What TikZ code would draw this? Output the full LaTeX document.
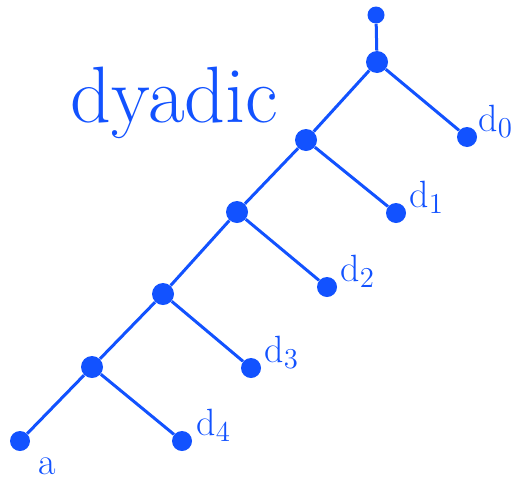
\documentclass[tikz,border=0pt]{standalone}
\definecolor{dyblue}{RGB}{18,82,255}
\begin{document}
\begin{tikzpicture}[x=0.5pt, y=-0.5pt,
    dot/.style={circle, fill=dyblue, inner sep=0pt, minimum size=20pt*0.5},
    bigdot/.style={dot, minimum size=22pt*0.5},
    topdot/.style={dot, minimum size=17pt*0.5},
    edge/.style={draw=dyblue, line width=1.5pt},
    lab/.style={text=dyblue, anchor=base west, font=\fontsize{19}{22}\selectfont}]

    \useasboundingbox (0,0) rectangle (512,482);

    % Title
    \node[text=dyblue, anchor=base west, inner sep=0pt,
          font=\fontsize{40}{44}\selectfont] (title) at (70,122) {dyadic};

    % Spine
    \node[topdot] (top) at (376,15) {};
    \node[bigdot] (n0) at (377,62) {};
    \node[bigdot] (n1) at (306,140) {};
    \node[bigdot] (n2) at (237,212) {};
    \node[bigdot] (n3) at (163,294) {};
    \node[bigdot] (n4) at (92,367) {};
    \node[dot] (a) at (20,441) {};

    % Leaves
    \node[dot] (d0) at (467,137) {};
    \node[dot] (d1) at (396,213) {};
    \node[dot] (d2) at (327,287) {};
    \node[dot] (d3) at (251,368) {};
    \node[dot] (d4) at (182,441) {};

    % Edges
    \draw[edge] (top) -- (n0) -- (n1) -- (n2) -- (n3) -- (n4) -- (a);
    \draw[edge] (n0) -- (d0);
    \draw[edge] (n1) -- (d1);
    \draw[edge] (n2) -- (d2);
    \draw[edge] (n3) -- (d3);
    \draw[edge] (n4) -- (d4);

    % Labels
    \node[lab, inner sep=0pt] (l0) at (478,131) {d$_0$};
    \node[lab, inner sep=0pt] (l1) at (409,207) {d$_1$};
    \node[lab, inner sep=0pt] (l2) at (340,281) {d$_2$};
    \node[lab, inner sep=0pt] (l3) at (264,362) {d$_3$};
    \node[lab, inner sep=0pt] (l4) at (196,435) {d$_4$};
    \node[lab, inner sep=0pt] (la) at (38,474) {a};

\end{tikzpicture}
\end{document}
